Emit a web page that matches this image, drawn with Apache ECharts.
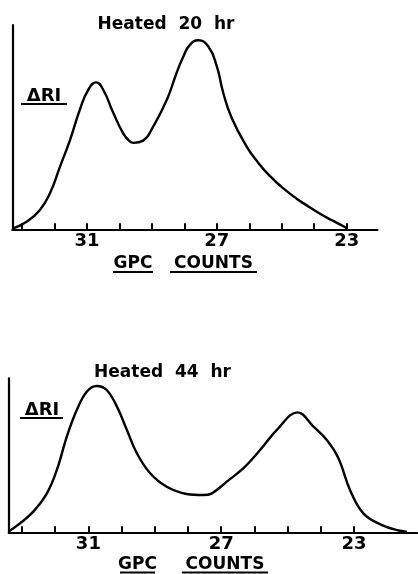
<!DOCTYPE html>
<html>
<head>
<meta charset="utf-8">
<script src="https://cdn.jsdelivr.net/npm/echarts@6/dist/echarts.min.js"></script>
<style>
	html, body { margin: 0; padding: 0; background: #fff; }
	#chart { width: 418px; height: 574px; }
</style>
</head>
<body>
<div id="chart"></div>
<script>
// 上图：加热 20 小时
const topCounts = [33.27, 32.86, 32.45, 32.14, 31.83, 31.52, 31.22, 30.96, 30.72, 30.5, 30.19, 29.88, 29.72, 29.57, 29.27, 28.96, 28.54, 28.24, 28.03, 27.83, 27.57, 27.26, 27.0, 26.8, 26.54, 26.08, 25.72, 25.36, 24.95, 24.54, 24.18, 23.82, 23.45, 23.1, 23.0];
const topRI = [0.5, 3.7, 9.5, 17.6, 30.7, 43.8, 58.5, 68.3, 71.9, 68.3, 57.0, 46.8, 43.6, 42.3, 43.4, 50.3, 63.4, 76.5, 84.6, 90.3, 92.5, 89.5, 79.7, 66.7, 54.5, 40.5, 32.5, 26.0, 20.0, 15.0, 11.2, 7.6, 4.4, 1.5, 0.5];

// 下图：加热 44 小时
const bottomCounts = [33.41, 33.06, 32.66, 32.25, 31.95, 31.65, 31.35, 31.05, 30.75, 30.45, 30.14, 29.84, 29.54, 29.14, 28.64, 28.04, 27.54, 27.28, 26.83, 26.33, 25.83, 25.33, 24.7, 24.22, 23.82, 23.47, 23.12, 22.72, 22.16, 21.61, 21.41];
const bottomRI = [0.4, 5.8, 13.4, 25.3, 40.5, 62.1, 79.4, 91.3, 95.0, 92.4, 81.6, 66.4, 51.3, 38.3, 29.6, 24.9, 24.2, 25.3, 32.9, 41.6, 53.4, 66.4, 77.9, 68.6, 59.9, 48.1, 27.5, 12.3, 4.7, 1.0, 0.4];

// 刻度
const tickValues = [23, 24, 25, 26, 27, 28, 29, 30, 31, 32, 33];
const labelValues = [31, 27, 23];

const FONT = 'DejaVu Sans';

const toPairs = (xs, ys) => xs.map((x, i) => [x, ys[i]]);

const xAxisBase = (min, max, grid) => ({
	type: 'value',
	gridIndex: grid,
	inverse: true,
	min: min,
	max: max,
	axisLine: { show: true, lineStyle: { color: '#000', width: 2.2 } },
	axisTick: { show: true, inside: true, length: 6, customValues: tickValues, lineStyle: { color: '#000', width: 2 } },
	axisLabel: { show: true, customValues: labelValues, margin: 3, color: '#000', fontFamily: FONT, fontWeight: 'bold', fontSize: 18 },
	splitLine: { show: false },
});

const yAxisBase = (grid) => ({
	type: 'value',
	gridIndex: grid,
	min: 0,
	max: 100,
	axisLine: { show: true, lineStyle: { color: '#000', width: 2.2 } },
	axisTick: { show: false },
	axisLabel: { show: false },
	splitLine: { show: false },
});

const txt = (x, y, text, size) => ({
	type: 'text',
	x: x,
	y: y,
	style: { text: text, fill: '#000', font: 'bold ' + size + 'px "' + FONT + '"', textAlign: 'center', textVerticalAlign: 'middle' },
});
const uline = (x1, x2, y) => ({
	type: 'line',
	shape: { x1: x1, y1: y, x2: x2, y2: y },
	style: { stroke: '#000', lineWidth: 2 },
});

const myChart = echarts.init(document.getElementById('chart'), null, { renderer: 'canvas' });
const option = {
	backgroundColor: '#fff',
	animation: false,
	grid: [
		{ left: 12.3, top: 25, width: 365.2, height: 204.3 },
		{ left: 8.7, top: 378.3, width: 408.4, height: 154 },
	],
	xAxis: [xAxisBase(22.05, 33.3, 0), xAxisBase(21.1, 33.4, 1)],
	yAxis: [yAxisBase(0), yAxisBase(1)],
	series: [
		{
			type: 'line',
			xAxisIndex: 0,
			yAxisIndex: 0,
			data: toPairs(topCounts, topRI),
			symbol: 'none',
			smooth: 0.5,
			lineStyle: { color: '#000', width: 2.4 },
		},
		{
			type: 'line',
			xAxisIndex: 1,
			yAxisIndex: 1,
			data: toPairs(bottomCounts, bottomRI),
			symbol: 'none',
			smooth: 0.4,
			lineStyle: { color: '#000', width: 2.4 },
		},
	],
	graphic: [
		txt(166, 25, 'Heated  20  hr', 17),
		txt(44, 96, 'ΔRI', 18),
		uline(21, 67, 104),
		txt(133, 263.5, 'GPC', 17),
		txt(213.5, 263.5, 'COUNTS', 17),
		uline(113, 153, 272),
		uline(170, 257, 272),

		txt(162.5, 372.5, 'Heated  44  hr', 17),
		txt(42, 410, 'ΔRI', 18),
		uline(20, 63, 418),
		txt(137.5, 565, 'GPC', 17),
		txt(225, 565, 'COUNTS', 17),
		uline(120, 155, 572.5),
		uline(182, 268, 572.5),
	],
};
myChart.setOption(option);
</script>
</body>
</html>
